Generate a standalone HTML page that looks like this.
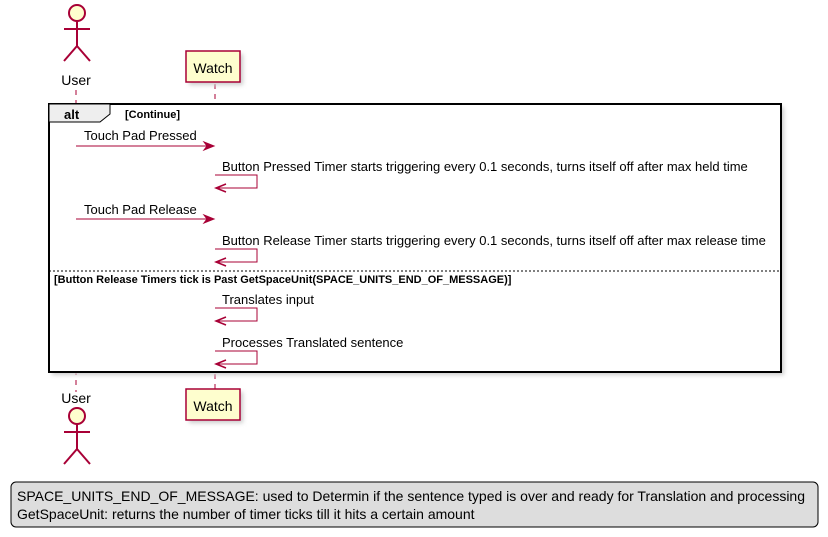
<!DOCTYPE html>
<html><head><style>body{margin:0;background:#fff}svg{display:block}text{font-family:"Liberation Sans",sans-serif}</style></head>
<body>
<svg width="828" height="537" viewBox="0 0 828 537" xmlns="http://www.w3.org/2000/svg">
<defs><filter id="sh" x="-10%" y="-10%" width="130%" height="130%"><feGaussianBlur stdDeviation="2"/></filter></defs>
<!-- lifelines -->
<line x1="76" y1="90" x2="76" y2="392" stroke="#A80036" stroke-dasharray="5,5"/>
<line x1="215" y1="84" x2="215" y2="389" stroke="#A80036" stroke-dasharray="5,5"/>
<!-- top actor -->
<g stroke="#A80036" stroke-width="2" fill="none">
<circle cx="77" cy="13" r="8" fill="#FEFECE"/>
<line x1="77" y1="21" x2="77" y2="46"/><line x1="64" y1="29" x2="90" y2="29"/>
<line x1="77" y1="46" x2="64" y2="61"/><line x1="77" y1="46" x2="90" y2="61"/>
</g>
<text x="76" y="85" font-size="14" text-anchor="middle">User</text>
<rect x="189" y="54" width="54" height="31" fill="#ccc" filter="url(#sh)"/>
<rect x="186" y="51" width="54" height="31" fill="#FEFECE" stroke="#A80036" stroke-width="1.5"/>
<text x="213" y="73" font-size="14" text-anchor="middle">Watch</text>
<!-- frame -->
<rect x="52" y="107" width="732" height="268" fill="#ccc" filter="url(#sh)"/>
<rect x="49" y="104" width="732" height="268" fill="#fff" stroke="#000" stroke-width="2"/>
<path d="M49 104 H110 V114 L100 122 H49 Z" fill="#EEEEEE" stroke="#000" stroke-width="1"/>
<text x="64" y="119" font-size="13" font-weight="bold">alt</text>
<text x="125" y="118" font-size="11" font-weight="bold">[Continue]</text>
<line x1="49" y1="271" x2="781" y2="271" stroke="#000" stroke-dasharray="2,2"/>
<text x="54" y="283" font-size="11" font-weight="bold">[Button Release Timers tick is Past GetSpaceUnit(SPACE_UNITS_END_OF_MESSAGE)]</text>
<g stroke="#A80036" fill="none" stroke-width="1">
<line x1="76" y1="146" x2="213" y2="146"/><path d="M204 142 L214 146 L204 150 L207 146 Z" fill="#A80036"/>
<line x1="76" y1="219" x2="213" y2="219"/><path d="M204 215 L214 219 L204 223 L207 219 Z" fill="#A80036"/>
<path d="M215 175 H257 V188 H216"/><path d="M226 184 L216 188 L226 192" stroke-width="1.5"/>
<path d="M215 249 H257 V262 H216"/><path d="M226 258 L216 262 L226 266" stroke-width="1.5"/>
<path d="M215 308 H257 V321 H216"/><path d="M226 317 L216 321 L226 325" stroke-width="1.5"/>
<path d="M215 351 H257 V364 H216"/><path d="M226 360 L216 364 L226 368" stroke-width="1.5"/>
</g>
<g font-size="13">
<text x="84" y="140">Touch Pad Pressed</text>
<text x="222" y="171">Button Pressed Timer starts triggering every 0.1 seconds, turns itself off after max held time</text>
<text x="84" y="214">Touch Pad Release</text>
<text x="222" y="245">Button Release Timer starts triggering every 0.1 seconds, turns itself off after max release time</text>
<text x="222" y="304">Translates input</text>
<text x="222" y="347">Processes Translated sentence</text>
</g>
<!-- bottom -->
<text x="76" y="403" font-size="14" text-anchor="middle">User</text>
<g stroke="#A80036" stroke-width="2" fill="none">
<circle cx="77" cy="416" r="8" fill="#FEFECE"/>
<line x1="77" y1="424" x2="77" y2="449"/><line x1="64" y1="432" x2="90" y2="432"/>
<line x1="77" y1="449" x2="64" y2="464"/><line x1="77" y1="449" x2="90" y2="464"/>
</g>
<rect x="189" y="392" width="54" height="31" fill="#ccc" filter="url(#sh)"/>
<rect x="186" y="389" width="54" height="31" fill="#FEFECE" stroke="#A80036" stroke-width="1.5"/>
<text x="213" y="411" font-size="14" text-anchor="middle">Watch</text>
<!-- note -->
<rect x="11" y="482" width="807" height="45" rx="5" fill="#DDDDDD" stroke="#000" stroke-width="1"/>
<text x="17" y="501" font-size="14">SPACE_UNITS_END_OF_MESSAGE: used to Determin if the sentence typed is over and ready for Translation and processing</text>
<text x="17" y="519" font-size="14">GetSpaceUnit: returns the number of timer ticks till it hits a certain amount</text>
</svg>
</body></html>
